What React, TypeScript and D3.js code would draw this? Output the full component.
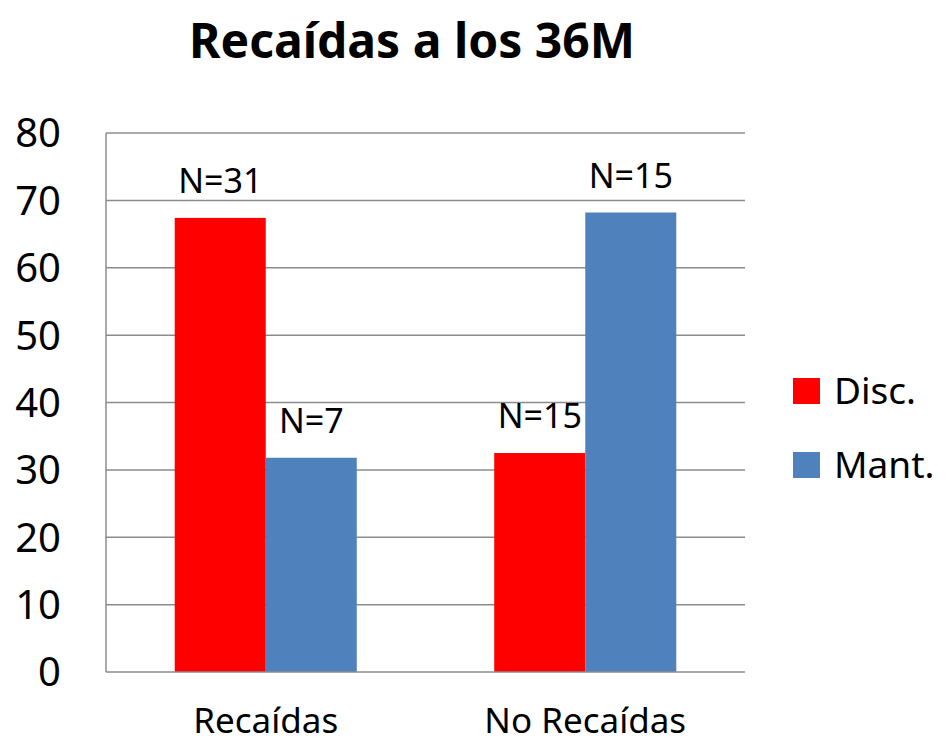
import * as d3 from 'd3';

const categories = ['Recaídas', 'No Recaídas'];
const series = ['Disc.', 'Mant.'];
const colors = ['#ff0000', '#4f81bd'];
// percentages per category, one array per series
const discValues = [67.4, 32.5];
const mantValues = [31.8, 68.2];
const discLabels = ['N=31', 'N=15'];
const mantLabels = ['N=7', 'N=15'];
const yTicks = [0, 10, 20, 30, 40, 50, 60, 70, 80];

const W = 951;
const H = 743;
const left = 106;
const right = 745;
const top = 133;
const bottom = 672;
const font = '"Noto Sans", "DejaVu Sans", sans-serif';

function App() {
    const y = d3.scaleLinear().domain([0, 80]).range([bottom, top]);
    const x0 = d3.scaleBand().domain(categories).range([left, right]);
    const x1 = d3
        .scaleBand()
        .domain(series)
        .range([0, x0.bandwidth()])
        .paddingInner(0)
        .paddingOuter(0.755);

    const values = [discValues, mantValues];
    const labels = [discLabels, mantLabels];

    return (
        <svg
            width={W}
            height={H}
            style={{ position: 'absolute', left: 0, top: 0 }}
            fontFamily={font}
        >
            <rect width={W} height={H} fill="#fff" />
            <text
                x={412}
                y={58}
                textAnchor="middle"
                fontSize={48}
                fontWeight="bold"
            >
                Recaídas a los 36M
            </text>

            {yTicks.map((t) => (
                <g key={t}>
                    {t > 0 && (
                        <line
                            x1={left}
                            x2={right}
                            y1={y(t)}
                            y2={y(t)}
                            stroke="#8c8c8c"
                            strokeWidth={1.5}
                        />
                    )}
                    <text
                        x={61}
                        y={y(t)}
                        dy="0.36em"
                        textAnchor="end"
                        fontSize={40}
                    >
                        {t}
                    </text>
                </g>
            ))}

            {categories.map((c, i) => (
                <g key={c} transform={`translate(${x0(c)},0)`}>
                    {series.map((s, j) => (
                        <g key={s}>
                            <rect
                                x={x1(s)}
                                y={y(values[j][i])}
                                width={x1.bandwidth()}
                                height={bottom - y(values[j][i])}
                                fill={colors[j]}
                            />
                            <text
                                x={(x1(s) ?? 0) + x1.bandwidth() / 2}
                                y={y(values[j][i]) - 25}
                                textAnchor="middle"
                                fontSize={34}
                            >
                                {labels[j][i]}
                            </text>
                        </g>
                    ))}
                    <text
                        x={x0.bandwidth() / 2}
                        y={733}
                        textAnchor="middle"
                        fontSize={35}
                    >
                        {c}
                    </text>
                </g>
            ))}

            <line x1={left} x2={left} y1={top} y2={bottom} stroke="#8c8c8c" strokeWidth={1.5} />
            <line x1={left} x2={right} y1={bottom} y2={bottom} stroke="#8c8c8c" strokeWidth={1.5} />

            {series.map((s, j) => (
                <g key={s} transform={`translate(793,${378 + j * 74})`}>
                    <rect width={27} height={26} fill={colors[j]} />
                    <text x={41} y={13} dy="0.36em" fontSize={37}>
                        {s}
                    </text>
                </g>
            ))}
        </svg>
    );
}

export default App;
